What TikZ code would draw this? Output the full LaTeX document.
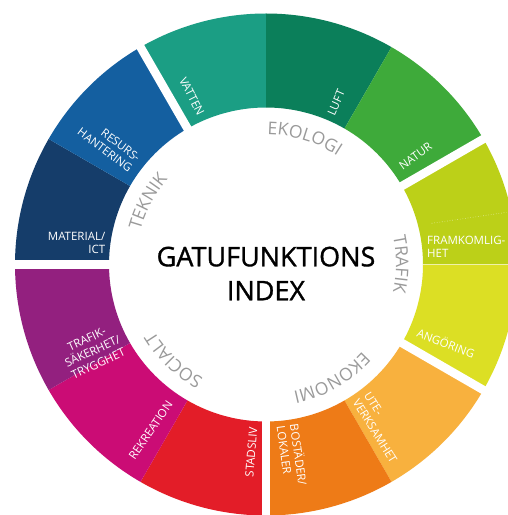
\documentclass[tikz,border=0pt]{standalone}
\usepackage{fontspec}
\setmainfont{Open Sans}
\usetikzlibrary{decorations.text}
\definecolor{cVatten}{HTML}{1B9E84}
\definecolor{cLuft}{HTML}{0B7F5A}
\definecolor{cNatur}{HTML}{3EAA3A}
\definecolor{cFram}{HTML}{BCD018}
\definecolor{cAng}{HTML}{DCDF24}
\definecolor{cUte}{HTML}{F8B13E}
\definecolor{cBost}{HTML}{EE7B17}
\definecolor{cStad}{HTML}{E31D28}
\definecolor{cRek}{HTML}{CB0C75}
\definecolor{cTraf}{HTML}{93207F}
\definecolor{cMat}{HTML}{153D6A}
\definecolor{cRes}{HTML}{145FA0}
\definecolor{grp}{HTML}{9A9A9A}
\newcommand\lblfont{\fontsize{11.5}{13.5}\selectfont}
\newcommand\grpfont{\fontsize{17.5}{21}\selectfont}
\newcommand\ttlfont{\fontsize{27}{34}\selectfont\addfontfeatures{FakeBold=1.2}}
\tikzset{
  seglabel/.style={font=\lblfont, text=white, inner sep=0pt},
  grouplabel/.style={decorate, decoration={text along path, text align=center, text color=grp, text={|\grpfont|#1}}},
  gapline/.style={white, line width=8.5pt},
}
\begin{document}
\begin{tikzpicture}[x=1pt,y=1pt]
\clip (0,0) rectangle (508,515);
\fill[white] (0,0) rectangle (508,515);
\begin{scope}[shift={(266,250.5)}]
  \foreach \a/\b/\c in {90/120/cVatten, 60/90/cLuft, 30/60/cNatur, 0/30/cFram, -30/0/cAng, -60/-30/cUte, -90/-60/cBost, -120/-90/cStad, -150/-120/cRek, -180/-150/cTraf, 150/180/cMat, 120/150/cRes}
    \fill[\c] (\a:157) arc[start angle=\a, end angle=\b, radius=157] -- (\b:251) arc[start angle=\b, end angle=\a, radius=251] -- cycle;
  \foreach \g in {120,30,-30,-90,180}
    \draw[gapline] (\g:150) -- (\g:262);
  \draw[white, opacity=0.5, line width=0.7pt] (0:157) -- (0:260);
  \draw[white, opacity=0.6, dotted, line width=0.6pt] (165.7,41.2) -- (240.7,52.2);
  % group labels
  \path[grouplabel=EKOLOGI] (113:130) arc[start angle=113, end angle=33, radius=130];
  \path[grouplabel=TRAFIK] (40:130) arc[start angle=40, end angle=-40, radius=130];
  \path[grouplabel=EKONOMI] (-20:130) arc[start angle=-20, end angle=-100, radius=130];
  \path[grouplabel=SOCIALT] (-94:130) arc[start angle=-94, end angle=-174, radius=130];
  \path[grouplabel=TEKNIK] (192:130) arc[start angle=192, end angle=112, radius=130];
  % title
  \node[font=\ttlfont, align=center, inner sep=0pt] (title) at (0,-9) {GATUFUNKTIONS\\INDEX};
  % segment labels
  \node[seglabel, anchor=east, rotate=-63] (vatten) at (113.4:163) {VATTEN};
  \node[seglabel, anchor=west, rotate=66] (luft) at (66.6:163) {LUFT};
  \node[seglabel, anchor=west, rotate=36] (natur) at (36:166) {NATUR};
  \node[seglabel, anchor=west, align=left] (fram) at (6.3:162) {FRAMKOMLIG-\\HET};
  \node[seglabel, anchor=west, rotate=-21] (ang) at (-24:166) {ANGÖRING};
  \node[seglabel, anchor=west, rotate=-58, align=left] (ute) at (-54.2:163) {UTE-\\VERKSAMHET};
  \node[seglabel, anchor=west, rotate=-82, align=left] (bost) at (-82.1:162) {BOSTÄDER/\\LOKALER};
  \node[seglabel, anchor=east, rotate=85.5] (stad) at (-94.5:163) {STADSLIV};
  \node[seglabel, anchor=east, rotate=55.6] (rek) at (-124.9:168) {REKREATION};
  \node[seglabel, anchor=east, rotate=25, align=center] (traf) at (-153.1:164) {TRAFIK-\\SÄKERHET/\\TRYGGHET};
  \node[seglabel, anchor=east, align=right] (mat) at (172.3:162) {MATERIAL/\\ICT};
  \node[seglabel, anchor=east, rotate=-37, align=right] (res) at (142.6:165) {RESURS-\\HANTERING};
\end{scope}
\end{tikzpicture}
\end{document}
